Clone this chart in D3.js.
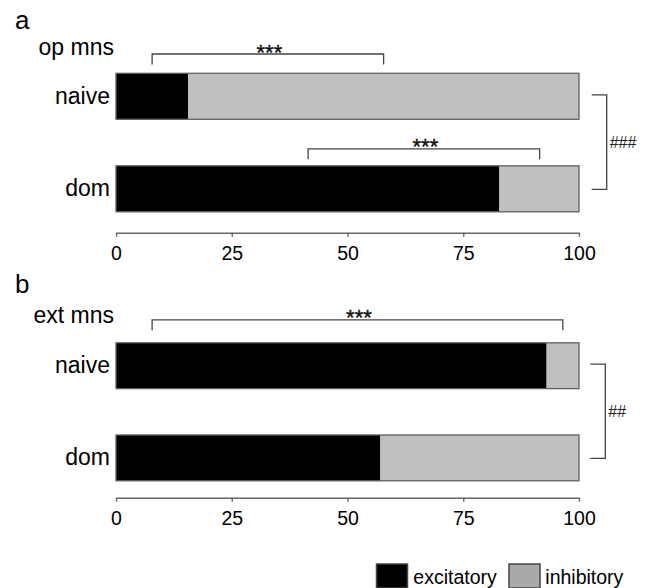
<!DOCTYPE html>
<html>
<head>
<meta charset="utf-8">
<script src="https://cdn.jsdelivr.net/npm/d3@7"></script>
<style>
  html, body { margin: 0; padding: 0; background: #fff; }
  svg { display: block; font-family: "Liberation Sans", Arial, Helvetica, sans-serif; }
</style>
</head>
<body>
<svg id="chart" width="646" height="588"></svg>
<script>
// ---------- data ----------
const categories = ["naive", "dom"];
const seriesNames = ["excitatory", "inhibitory"];
const panelLetters = ["a", "b"];
const panelTitles = ["op mns", "ext mns"];
// percent excitatory (inhibitory = 100 - excitatory)
const opExcitatory = [15.6, 82.8];
const extExcitatory = [93.0, 57.1];
const tickValues = [0, 25, 50, 75, 100];
// significance brackets (percent positions along the axis)
const opBrackets = [
  { cat: "naive", from: 7.8, to: 57.8, label: "***" },
  { cat: "dom", from: 41.5, to: 91.5, label: "***" }
];
const extBrackets = [
  { cat: "naive", from: 7.8, to: 96.5, label: "***" }
];
const betweenLabels = ["###", "##"];

// ---------- layout ----------
const colors = { excitatory: "#000000", inhibitory: "#c0c0c0" };
const legendColors = { excitatory: "#000000", inhibitory: "#a9a9a9" };
const svg = d3.select("#chart");
const x = d3.scaleLinear().domain([0, 100]).range([116, 579]);

const panels = [
  { letter: panelLetters[0], title: panelTitles[0], exc: opExcitatory, brackets: opBrackets, between: betweenLabels[0],
    letterY: 28.5, titleY: 55, bandRange: [73.3, 211.8], axisY: 232.7, bracketRise: [19.3, 17], rightX: 606.7 },
  { letter: panelLetters[1], title: panelTitles[1], exc: extExcitatory, brackets: extBrackets, between: betweenLabels[1],
    letterY: 293, titleY: 322.7, bandRange: [342.8, 480.8], axisY: 497.7, bracketRise: [23], rightX: 605.3 }
];

panels.forEach(p => {
  const g = svg.append("g");
  const y = d3.scaleBand().domain(categories).range(p.bandRange).paddingInner(0.503).paddingOuter(0);
  const bw = y.bandwidth();

  // panel letter and title
  g.append("text").attr("x", 15).attr("y", p.letterY).attr("font-size", 26).attr("fill", "#000").text(p.letter);
  g.append("text").attr("x", 114).attr("y", p.titleY).attr("text-anchor", "end").attr("font-size", 23).attr("fill", "#000").text(p.title);

  // stacked data
  const rows = categories.map((c, i) => ({ cat: c, excitatory: p.exc[i], inhibitory: 100 - p.exc[i] }));
  const stacked = d3.stack().keys(seriesNames)(rows);

  g.selectAll("g.series").data(stacked).join("g")
    .attr("class", "series")
    .attr("fill", d => colors[d.key])
    .selectAll("rect").data(d => d).join("rect")
      .attr("x", d => x(d[0]))
      .attr("width", d => x(d[1]) - x(d[0]))
      .attr("y", d => y(d.data.cat))
      .attr("height", bw);

  // outline
  g.selectAll("rect.outline").data(rows).join("rect")
    .attr("class", "outline")
    .attr("x", x(0)).attr("width", x(100) - x(0))
    .attr("y", d => y(d.cat)).attr("height", bw)
    .attr("fill", "none").attr("stroke", "#606060").attr("stroke-width", 1.3);

  // category labels
  g.selectAll("text.cat").data(categories).join("text")
    .attr("class", "cat")
    .attr("x", 110)
    .attr("y", d => y(d) + bw / 2 + 7.5)
    .attr("text-anchor", "end").attr("font-size", 23).attr("fill", "#000")
    .text(d => d);

  // axis
  const axis = d3.axisBottom(x).tickValues(tickValues).tickSize(4).tickSizeOuter(0).tickPadding(9);
  const ag = g.append("g").attr("transform", `translate(0,${p.axisY})`).call(axis);
  ag.select(".domain").attr("stroke", "#666").attr("stroke-width", 1.4);
  ag.selectAll(".tick line").attr("stroke", "#666").attr("stroke-width", 1.4);
  ag.selectAll(".tick text").attr("font-size", 19.5).attr("fill", "#000")
    .attr("font-family", "\"Liberation Sans\", Arial, sans-serif");

  // significance brackets above bars
  p.brackets.forEach((b, i) => {
    const top = y(b.cat) - p.bracketRise[i];
    const tickLen = 10.5;
    g.append("path")
      .attr("d", `M${x(b.from)},${top + tickLen}V${top}H${x(b.to)}V${top + tickLen}`)
      .attr("fill", "none").attr("stroke", "#444").attr("stroke-width", 1.3);
    g.append("text")
      .attr("x", (x(b.from) + x(b.to)) / 2 + 1.5)
      .attr("y", top + 5.5)
      .attr("text-anchor", "middle").attr("font-size", 22).attr("fill", "#111")
      .attr("stroke", "#111").attr("stroke-width", 0.4)
      .text(b.label);
  });

  // bracket between categories on the right
  const c0 = y(categories[0]) + bw / 2 - 1.5;
  const c1 = y(categories[1]) + bw / 2 + 0.5;
  g.append("path")
    .attr("d", `M${p.rightX - 15},${c0}H${p.rightX}V${c1}H${p.rightX - 15}`)
    .attr("fill", "none").attr("stroke", "#444").attr("stroke-width", 1.3);
  g.append("text")
    .attr("x", p.rightX + 3)
    .attr("y", (c0 + c1) / 2 + 6)
    .attr("font-size", 16).attr("fill", "#222")
    .text(p.between);
});

// legend
const legendItems = [
  { key: seriesNames[0], sx: 376.5, tx: 413.3 },
  { key: seriesNames[1], sx: 509, tx: 545.3 }
];
const lg = svg.append("g");
legendItems.forEach(it => {
  lg.append("rect").attr("x", it.sx).attr("y", 564).attr("width", 31).attr("height", 24)
    .attr("fill", legendColors[it.key]).attr("stroke", "#444").attr("stroke-width", 1.5);
  lg.append("text").attr("x", it.tx).attr("y", 583.5).attr("font-size", 19.5).attr("fill", "#000").text(it.key);
});
</script>
</body>
</html>
